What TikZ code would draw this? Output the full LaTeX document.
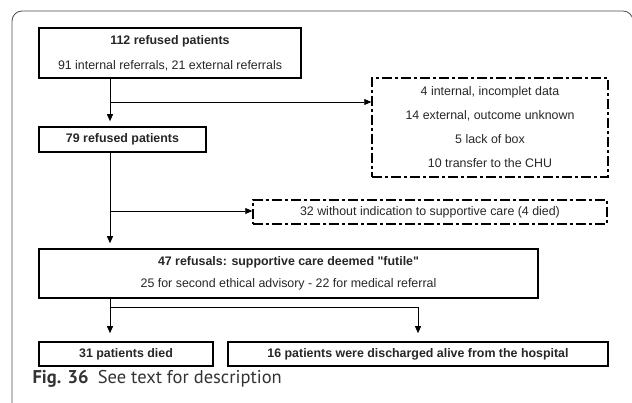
\documentclass[tikz,border=0pt]{standalone}
\usepackage{fontspec}
\setmainfont{Liberation Sans}[Ligatures=TeXOff]
\newfontfamily\capfont{PT Sans}
\usetikzlibrary{arrows.meta,calc}

\begin{document}
\begin{tikzpicture}[x=1pt,y=-1pt,font=\fontsize{12.4}{24}\selectfont,
    box/.style={draw, line width=1.6pt, inner sep=0pt, align=center, text=black!85},
    dbox/.style={box, line width=1.5pt, dash pattern=on 10pt off 3pt on 3pt off 3pt},
    arr/.style={line width=0.8pt, -{Triangle[length=7pt,width=6pt]}}]
  \useasboundingbox (0,0) rectangle (632,403);
  % page frame
  \draw[black!70, line width=0.8pt, rounded corners=10pt] (12,410) -- (12,11) -- (633,11) -- (633,40);

  \node[box, minimum width=262pt, minimum height=50pt] (refused) at (170,53)
    {\textbf{112 refused patients}\\[1pt]91 internal referrals, 21 external referrals};
  \node[box, minimum width=167pt, minimum height=25pt] (remain) at (122.5,139.5) {\textbf{79 refused patients}};
  \node[box, font=\fontsize{12.4}{22.5}\selectfont, minimum width=499pt, minimum height=49pt] (futile) at (288.5,273.5)
    {\textbf{47 refusals: supportive care deemed "futile"}\\25 for second ethical advisory - 22 for medical referral};
  \node[box, minimum width=174pt, minimum height=24pt] (died) at (126,354) {\textbf{31 patients died}};
  \node[box, minimum width=380pt, minimum height=24pt] (alive) at (418,354)
    {\textbf{16 patients were discharged alive from the hospital}};
  \node[dbox, minimum width=236pt, minimum height=99pt] (excluded) at (490,127.5)
    {4 internal, incomplet data\\14 external, outcome unknown\\5 lack of box\\10 transfer to the CHU};
  \node[dbox, minimum width=354pt, minimum height=24pt] (noind) at (430,212)
    {32 without indication to supportive care (4 died)};

  % main line and side branches
  \coordinate (trunk) at (110,0);
  \draw[arr, shorten >=5pt] (refused.south -| trunk) -- (remain.north -| trunk);
  \coordinate (split1) at (110,102);
  \draw[arr] (split1) -- (split1 -| excluded.west);
  \draw[arr, shorten >=5pt] (remain.south -| trunk) -- (futile.north -| trunk);
  \coordinate (split2) at (110,211);
  \draw[arr] (split2) -- (split2 -| noind.west);
  \draw[arr, shorten >=8pt] (futile.south -| trunk) -- (died.north -| trunk);
  \coordinate (split3) at (110,307);
  \draw[arr, shorten >=8pt] (split3) -| (alive.north);

  \node[anchor=base west, font=\capfont\fontsize{18.5}{20}\selectfont, text=black!80] (caption) at (29,384)
    {\textbf{Fig. 36}\enspace See text for description};
\end{tikzpicture}
\end{document}
